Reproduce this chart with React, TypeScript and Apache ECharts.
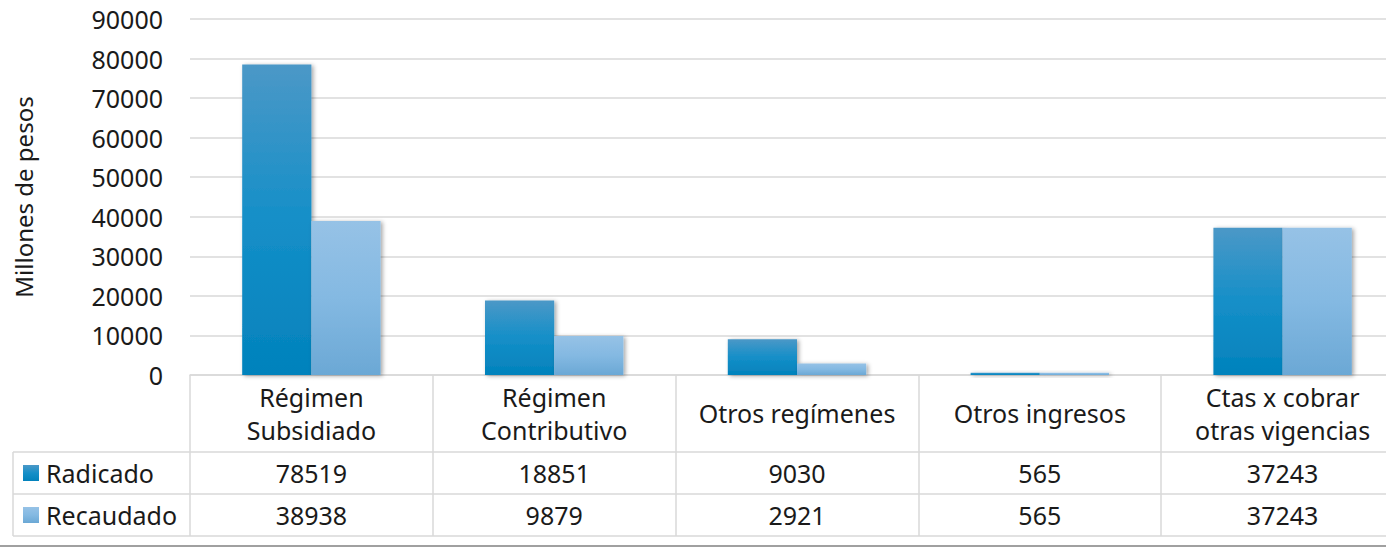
import React, { useEffect, useRef } from 'react';
import * as echarts from 'echarts';

const categories = ['Régimen\nSubsidiado', 'Régimen\nContributivo', 'Otros regímenes', 'Otros ingresos', 'Ctas x cobrar\notras vigencias'];
const seriesNames = ['Radicado', 'Recaudado'];
const radicado = [78519, 18851, 9030, 565, 37243];
const recaudado = [38938, 9879, 2921, 565, 37243];
const yMin = 0;
const yMax = 90000;
const yInterval = 10000;
const yTitle = 'Millones de pesos';

const FONT = '"Noto Sans", sans-serif';
const TEXT = '#1a1a1a';
const LINE = '#d9d9d9';
const FS = 25;

export default function App() {
  const ref = useRef<HTMLDivElement>(null);
  useEffect(() => {
    const chart = echarts.init(ref.current!, null, { renderer: 'svg' });
    const gradRad = () =>
      new echarts.graphic.LinearGradient(0, 0, 0, 1, [
        { offset: 0, color: '#4b98c7' },
        { offset: 0.5, color: '#158fc8' },
        { offset: 1, color: '#0282bc' },
      ]);
    const gradRec = () =>
      new echarts.graphic.LinearGradient(0, 0, 0, 1, [
        { offset: 0, color: '#96c2e6' },
        { offset: 0.5, color: '#84b9e2' },
        { offset: 1, color: '#6ba8d5' },
      ]);
    const shadow = { shadowBlur: 4, shadowOffsetX: 2, shadowOffsetY: 1, shadowColor: 'rgba(0,0,0,0.35)' };
    const gridTop = 19;
    const gridLeft = 190;
    const gridHeight = 356;
    const gridWidth = 1214;
    const axisY = gridTop + gridHeight;
    const rowLines = [452, 494, 536];
    const rowCenters = [473, 515];
    chart.setOption({
      animation: false,
      grid: { left: gridLeft, top: gridTop, width: gridWidth, height: gridHeight, containLabel: false },
      xAxis: {
        type: 'category',
        data: categories,
        axisLine: { lineStyle: { color: LINE, width: 1.5 } },
        axisTick: { show: true, length: rowLines[2] - axisY, lineStyle: { color: LINE, width: 1.5 } },
        axisLabel: {
          interval: 0,
          margin: 38,
          verticalAlign: 'middle',
          lineHeight: 33,
          fontSize: FS,
          fontFamily: FONT,
          color: TEXT,
        },
      },
      yAxis: {
        type: 'value',
        min: yMin,
        max: yMax,
        interval: yInterval,
        name: yTitle,
        nameLocation: 'middle',
        nameGap: 155,
        nameTextStyle: { fontSize: 24, fontFamily: FONT, color: TEXT },
        axisLine: { show: false },
        axisTick: { show: false },
        axisLabel: { margin: 27, fontSize: FS, fontFamily: FONT, color: TEXT, formatter: (v: number) => String(v) },
        splitLine: { lineStyle: { color: LINE, width: 1.5 } },
      },
      series: [
        {
          name: seriesNames[0],
          type: 'bar',
          data: radicado,
          barGap: '0%',
          barCategoryGap: '43%',
          itemStyle: { color: gradRad(), ...shadow },
        },
        {
          name: seriesNames[1],
          type: 'bar',
          data: recaudado,
          barGap: '0%',
          barCategoryGap: '43%',
          itemStyle: { color: gradRec(), ...shadow },
        },
      ],
    });

    const right = gridLeft + gridWidth;
    const elements: any[] = [];
    rowLines.forEach((y) => {
      elements.push({ type: 'line', shape: { x1: 13, y1: y, x2: right, y2: y }, style: { stroke: LINE, lineWidth: 1.5 }, silent: true });
    });
    elements.push({ type: 'line', shape: { x1: 13, y1: rowLines[0], x2: 13, y2: rowLines[2] }, style: { stroke: LINE, lineWidth: 1.5 } });
    elements.push({ type: 'line', shape: { x1: 0, y1: 546, x2: 1386, y2: 546 }, style: { stroke: '#808080', lineWidth: 1.5 } });
    const rows = [radicado, recaudado];
    const grads = [gradRad(), gradRec()];
    rows.forEach((vals, r) => {
      const cy = rowCenters[r];
      elements.push({ type: 'rect', shape: { x: 23, y: cy - 8, width: 16, height: 16 }, style: { fill: grads[r] } });
      elements.push({
        type: 'text',
        x: 46,
        y: cy,
        style: { text: seriesNames[r], fontSize: FS, fontFamily: FONT, fill: TEXT, align: 'left', verticalAlign: 'middle' },
      });
      vals.forEach((v, i) => {
        const px = chart.convertToPixel({ xAxisIndex: 0 }, i) as number;
        elements.push({
          type: 'text',
          x: px,
          y: cy,
          style: { text: String(v), fontSize: FS, fontFamily: FONT, fill: TEXT, align: 'center', verticalAlign: 'middle' },
        });
      });
    });
    chart.setOption({ graphic: { elements } });
    return () => chart.dispose();
  }, []);
  return (
    <div style={{ position: 'fixed', left: 0, top: 0, width: 1386, height: 547, overflow: 'hidden', background: '#fff' }}>
      <div ref={ref} style={{ width: 1404, height: 547 }} />
    </div>
  );
}
